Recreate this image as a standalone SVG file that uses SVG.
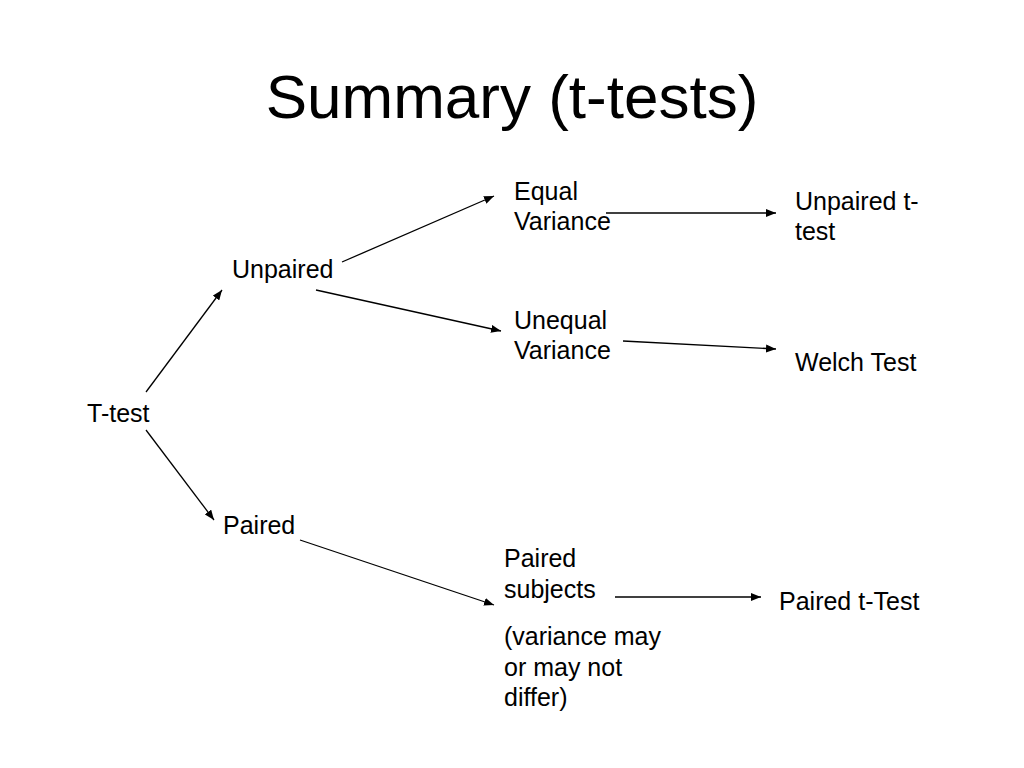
<svg xmlns="http://www.w3.org/2000/svg" width="1024" height="768" viewBox="0 0 1024 768">
  <style>
    text { font-family: "Liberation Sans", Arial, Helvetica, sans-serif; fill: #000; }
    .title { font-size: 62px; text-anchor: middle; }
    .lbl { font-size: 25px; }
    .conn { stroke: #000; stroke-width: 1.3; fill: none; marker-end: url(#arrow); }
  </style>
  <defs>
    <marker id="arrow" viewBox="0 0 10 8" refX="10" refY="4" markerWidth="10" markerHeight="8" markerUnits="userSpaceOnUse" orient="auto">
      <path d="M0,0 L10,4 L0,8 Z" fill="#000"/>
    </marker>
  </defs>
  <rect width="1024" height="768" fill="#fff"/>
  <text class="title" x="512" y="118">Summary (t-tests)</text>

  <g id="connectors">
    <line class="conn" x1="146" y1="392" x2="222" y2="290"/>
    <line class="conn" x1="146" y1="430" x2="214" y2="520"/>
    <line class="conn" x1="342" y1="262" x2="494" y2="196"/>
    <line class="conn" x1="316" y1="290" x2="501" y2="331"/>
    <line class="conn" x1="606" y1="213" x2="776" y2="213"/>
    <line class="conn" x1="623" y1="341" x2="776" y2="349"/>
    <line class="conn" x1="300" y1="540" x2="494" y2="605"/>
    <line class="conn" x1="615" y1="597" x2="761" y2="597"/>
  </g>

  <g id="ttest"><text class="lbl" x="87" y="422">T-test</text></g>
  <g id="unpaired"><text class="lbl" x="232" y="278">Unpaired</text></g>
  <g id="paired"><text class="lbl" x="223" y="534">Paired</text></g>
  <g id="equal-variance"><text class="lbl" x="514" y="200">Equal</text><text class="lbl" x="514" y="230">Variance</text></g>
  <g id="unequal-variance"><text class="lbl" x="514" y="329">Unequal</text><text class="lbl" x="514" y="359">Variance</text></g>
  <g id="unpaired-ttest"><text class="lbl" x="795" y="210">Unpaired t-</text><text class="lbl" x="795" y="240">test</text></g>
  <g id="welch"><text class="lbl" x="795" y="371">Welch Test</text></g>
  <g id="paired-subjects">
    <text class="lbl" x="504" y="567">Paired</text>
    <text class="lbl" x="504" y="598">subjects</text>
    <text class="lbl" x="504" y="645">(variance may</text>
    <text class="lbl" x="504" y="676">or may not</text>
    <text class="lbl" x="504" y="706">differ)</text>
  </g>
  <g id="paired-ttest"><text class="lbl" x="779" y="610">Paired t-Test</text></g>
</svg>
